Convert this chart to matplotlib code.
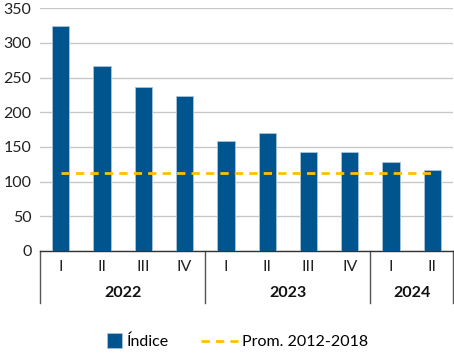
import numpy as np
import matplotlib.pyplot as plt
from matplotlib.lines import Line2D
from matplotlib.patches import Patch, Rectangle
from matplotlib.legend_handler import HandlerPatch

plt.rcParams['font.family'] = ['Lato', 'DejaVu Sans']

# datos
trimestres = ['I', 'II', 'III', 'IV', 'I', 'II', 'III', 'IV', 'I', 'II']
anios = ['2022', '2023', '2024']
n_por_anio = [4, 4, 2]
indice = [324, 266, 237, 224, 158, 170, 143, 143, 128, 116]
promedio = 113

AZUL = '#00558f'
AMARILLO = '#ffc000'

fig = plt.figure(figsize=(4.54, 3.53), dpi=100)
ax = fig.add_axes([0.088, 0.289, 0.910, 0.688])

x = np.arange(len(indice))
ax.bar(x, indice, width=0.42, color=AZUL, edgecolor='#a9c4dc', linewidth=0.6, zorder=3)
ax.plot([x[0], x[-1]], [promedio, promedio], color=AMARILLO, linestyle=(0, (3, 2.2)),
        linewidth=2, zorder=4)

ax.set_xlim(-0.5, len(indice) - 0.5)
ax.set_ylim(0, 350)
ax.set_yticks(range(0, 351, 50))
ax.tick_params(axis='y', length=0, labelsize=11.5, pad=6, colors='#222222')
ax.set_xticks([])
ax.grid(axis='y', color='#c8c8c8', linewidth=1, zorder=0)
for s in ['left', 'right', 'top']:
    ax.spines[s].set_visible(False)
ax.spines['bottom'].set_color('#333333')
ax.spines['bottom'].set_linewidth(1)

trans = ax.get_xaxis_transform()
for xi, t in zip(x, trimestres):
    ax.text(xi, -0.066, t, transform=trans, ha='center', va='center', fontsize=11.5,
            color='#222222')

# separadores de año y etiquetas
bordes = np.concatenate([[0], np.cumsum(n_por_anio)]) - 0.5
for b in bordes:
    ax.add_line(Line2D([b, b], [0, -0.214], transform=trans, color='#555555',
                       linewidth=1, clip_on=False))
for i, a in enumerate(anios):
    c = (bordes[i] + bordes[i + 1]) / 2
    ax.text(c, -0.173, a, transform=trans, ha='center', va='center', fontsize=11.5,
            fontweight='bold', color='#111111')


def cuadrado(legend, orig_handle, xdescent, ydescent, width, height, fontsize):
    lado = 11
    return Rectangle((width - lado - xdescent, -ydescent + height / 2 - lado / 2), lado, lado)


handles = [Patch(facecolor=AZUL, edgecolor='#a9c4dc', linewidth=0.6),
           Line2D([0], [0], color=AMARILLO, linestyle=(0, (3, 2.2)), linewidth=2)]
fig.legend(handles, ['Índice', 'Prom. 2012-2018'], loc='center', bbox_to_anchor=(0.5, 0.031),
           ncol=2, frameon=False, fontsize=11.5, handlelength=2.3,
           columnspacing=2.0, handletextpad=0.3,
           handler_map={Patch: HandlerPatch(patch_func=cuadrado)})

fig.savefig('out.png', dpi=100)
